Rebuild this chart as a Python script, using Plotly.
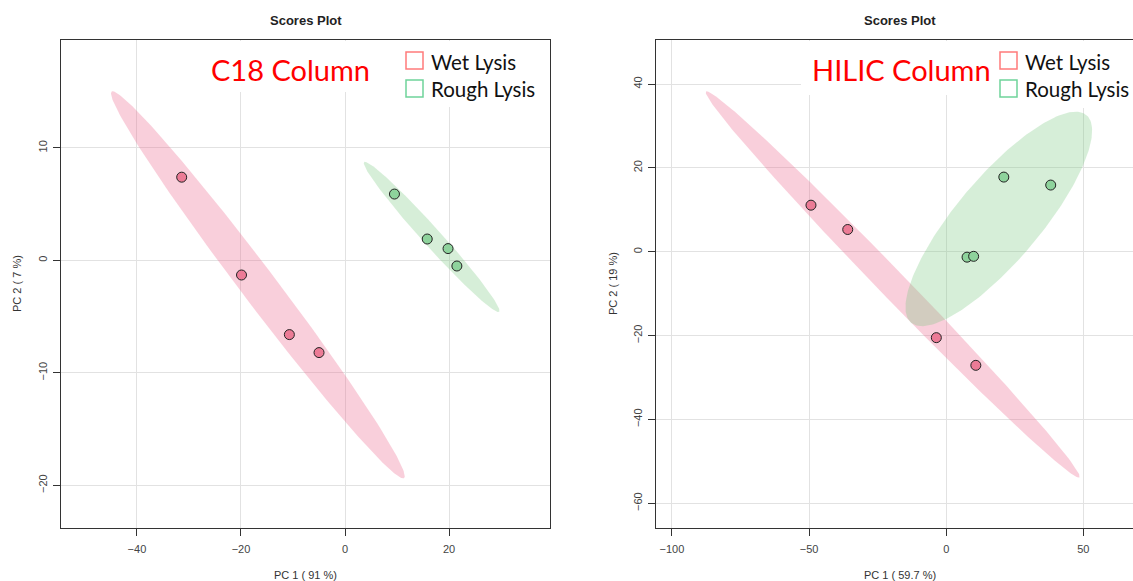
import numpy as np
import plotly.graph_objects as go

# ---------------- data ----------------
c18_wet_pc1 = [-31.4, -19.9, -10.7, -5.0]
c18_wet_pc2 = [7.4, -1.3, -6.6, -8.2]
c18_rough_pc1 = [9.5, 15.8, 19.8, 21.5]
c18_rough_pc2 = [5.9, 1.9, 1.05, -0.5]

hilic_wet_pc1 = [-49.3, -35.9, -3.6, 10.8]
hilic_wet_pc2 = [11.1, 5.3, -20.5, -27.1]
hilic_rough_pc1 = [7.6, 10.0, 21.0, 38.1]
hilic_rough_pc2 = [-1.3, -1.1, 17.8, 15.9]

c18_xticks = [-40, -20, 0, 20]
c18_yticks = [-20, -10, 0, 10]
hilic_xticks = [-100, -50, 0, 50]
hilic_yticks = [-60, -40, -20, 0, 20, 40]

group_names = ["Wet Lysis", "Rough Lysis"]
panel_labels = ["C18 Column", "HILIC Column"]
c18_xtitle, c18_ytitle = "PC 1 ( 91 %)", "PC 2 ( 7 %)"
hilic_xtitle, hilic_ytitle = "PC 1 ( 59.7 %)", "PC 2 ( 19 %)"

# ---------------- styling ----------------
W, H = 1133, 581
PINK_FILL = "rgba(236,110,146,0.33)"
GREEN_FILL = "rgba(120,200,125,0.30)"
PINK_PT = "#ec7b96"
GREEN_PT = "#8ed39c"
GRID = "#e2e2e2"
AX = "#333333"
FONT = "Liberation Sans, Arial, sans-serif"
TEXTFONT = "Lato, Open Sans, sans-serif"


def px(x):
    return x / W


def py(y):
    return 1 - y / H


def conf_ellipse(xs, ys, n=240):
    X = np.array([xs, ys], dtype=float)
    mu = X.mean(axis=1)
    C = np.cov(X)
    r = np.sqrt(5.991464547)  # 95% chi-square, 2 df
    vals, vecs = np.linalg.eigh(C)
    t = np.linspace(0, 2 * np.pi, n)
    circ = np.vstack([np.cos(t), np.sin(t)])
    pts = mu[:, None] + vecs @ (np.sqrt(np.clip(vals, 0, None))[:, None] * r * circ)
    return pts[0], pts[1]


fig = go.Figure()


def add_panel(xa, ya, wx, wy, rx, ry):
    for (x, y, fc) in [(wx, wy, PINK_FILL), (rx, ry, GREEN_FILL)]:
        ex, ey = conf_ellipse(x, y)
        fig.add_trace(go.Scatter(x=ex, y=ey, mode="lines", fill="toself",
                                 fillcolor=fc, line=dict(width=0),
                                 xaxis=xa, yaxis=ya, showlegend=False,
                                 hoverinfo="skip"))
    for (x, y, c) in [(wx, wy, PINK_PT), (rx, ry, GREEN_PT)]:
        fig.add_trace(go.Scatter(x=x, y=y, mode="markers",
                                 marker=dict(size=10, color=c,
                                             line=dict(color="#222222", width=1)),
                                 xaxis=xa, yaxis=ya, showlegend=False))


add_panel("x", "y", c18_wet_pc1, c18_wet_pc2, c18_rough_pc1, c18_rough_pc2)
add_panel("x2", "y2", hilic_wet_pc1, hilic_wet_pc2, hilic_rough_pc1, hilic_rough_pc2)

axis_common = dict(showgrid=True, gridcolor=GRID, gridwidth=1, zeroline=False,
                   showline=True, linecolor=AX, linewidth=1.3,
                   ticks="outside", ticklen=7, tickcolor=AX, tickwidth=1,
                   tickfont=dict(family=FONT, size=11, color="#444444"))

fig.update_layout(
    width=W, height=H, margin=dict(l=0, r=0, t=0, b=0),
    paper_bgcolor="white", plot_bgcolor="white", showlegend=False,
    xaxis=dict(domain=[px(61), px(550)], range=[-54.6, 39.4], tickvals=c18_xticks,
               mirror=True, anchor="y", ticklabelstandoff=4, **axis_common),
    yaxis=dict(domain=[py(528), py(40)], range=[-23.8, 19.6], tickvals=c18_yticks,
               mirror=True, anchor="x", tickangle=-90, ticklabelstandoff=1, **axis_common),
    xaxis2=dict(domain=[px(656), 1.0], range=[-105.8, 68.1], tickvals=hilic_xticks,
                mirror=True, anchor="y2", ticklabelstandoff=4, **axis_common),
    yaxis2=dict(domain=[py(528), py(40)], range=[-65.9, 50.5], tickvals=hilic_yticks,
                mirror=False, anchor="x2", tickangle=-90, ticklabelstandoff=1, **axis_common),
)

shapes = []
# white masks behind the pasted-in labels
for (x0, x1, y0, y1) in [(205, 400, 41, 92), (400, 548, 41, 107),
                         (801, 995, 41, 95), (995, 1133, 41, 108)]:
    shapes.append(dict(type="rect", xref="paper", yref="paper",
                       x0=px(x0), x1=px(x1), y0=py(y1), y1=py(y0),
                       fillcolor="white", line=dict(width=0), layer="above"))
# legend squares
for sx in (406, 1000):
    for (sy, col) in [(52, "#ff7b7b"), (80, "#6fd39a")]:
        shapes.append(dict(type="rect", xref="paper", yref="paper",
                           x0=px(sx), x1=px(sx + 17), y0=py(sy + 17), y1=py(sy),
                           fillcolor="rgba(0,0,0,0)", line=dict(color=col, width=1.5),
                           layer="above"))
fig.update_layout(shapes=shapes)

ann = []
for cx in (305.5, 900):
    ann.append(dict(text="<b>Scores Plot</b>", xref="paper", yref="paper",
                    x=px(cx), y=py(20), showarrow=False, xanchor="center", yanchor="middle",
                    font=dict(family=FONT, size=13, color="#222222")))
for (cx, t) in [(305.5, c18_xtitle), (900, hilic_xtitle)]:
    ann.append(dict(text=t, xref="paper", yref="paper", x=px(cx), y=py(575),
                    showarrow=False, xanchor="center", yanchor="middle",
                    font=dict(family=FONT, size=11, color="#333333")))
for (cx, t) in [(17, c18_ytitle), (613, hilic_ytitle)]:
    ann.append(dict(text=t, xref="paper", yref="paper", x=px(cx), y=py(284),
                    showarrow=False, xanchor="center", yanchor="middle", textangle=-90,
                    font=dict(family=FONT, size=11, color="#333333")))
for (cx, t) in [(290, panel_labels[0]), (901, panel_labels[1])]:
    ann.append(dict(text=t, xref="paper", yref="paper", x=px(cx), y=py(70),
                    showarrow=False, xanchor="center", yanchor="middle",
                    font=dict(family=TEXTFONT, size=29, color="#ff0000")))
for lx in (429, 1023):
    for (ly, t) in [(62, group_names[0]), (89, group_names[1])]:
        ann.append(dict(text=t, xref="paper", yref="paper", x=px(lx), y=py(ly),
                        showarrow=False, xanchor="left", yanchor="middle",
                        font=dict(family=TEXTFONT, size=20.5, color="#111111")))
fig.update_layout(annotations=ann)

fig.write_html("out.html", config={"displayModeBar": False},
               post_script="document.body.style.margin='0px';document.body.style.overflow='hidden';")
